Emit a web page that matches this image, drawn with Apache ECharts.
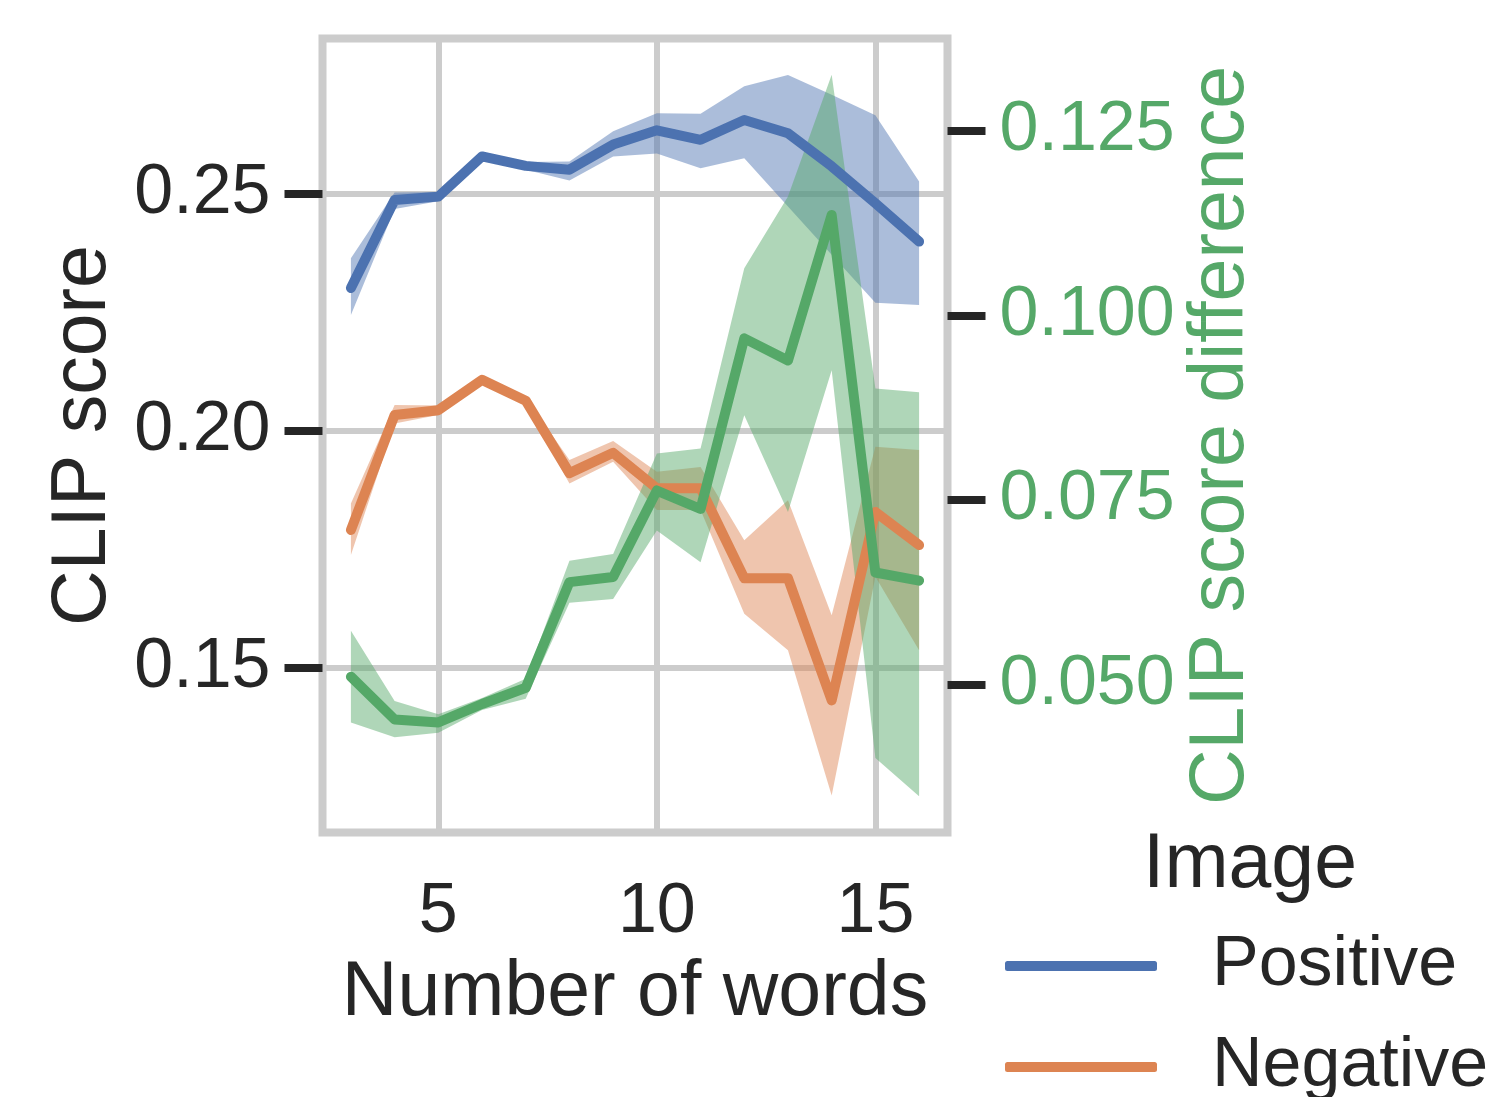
<!DOCTYPE html>
<html>
<head>
<meta charset="utf-8">
<script src="https://cdn.jsdelivr.net/npm/echarts@6/dist/echarts.min.js"></script>
<style>
html,body{margin:0;padding:0;background:#fff;}
#chart{width:1493px;height:1097px;}
</style>
</head>
<body>
<div id="chart"></div>
<script>
// ---- data ----
var words = [3, 4, 5, 6, 7, 8, 9, 10, 11, 12, 13, 14, 15, 16];

var posMean = [0.2301, 0.2487, 0.2494, 0.2579, 0.2559, 0.2551, 0.2604, 0.2634, 0.2614, 0.2656, 0.2628, 0.2558, 0.2480, 0.2399];
var posLow  = [0.2244, 0.2468, 0.2484, 0.2571, 0.2551, 0.2528, 0.2579, 0.2585, 0.2554, 0.2575, 0.2473, 0.2371, 0.2270, 0.2265];
var posHigh = [0.2364, 0.2503, 0.2504, 0.2587, 0.2567, 0.2568, 0.2632, 0.2670, 0.2669, 0.2727, 0.2751, 0.2709, 0.2666, 0.2526];

var negMean = [0.1790, 0.2033, 0.2043, 0.2107, 0.2063, 0.1910, 0.1953, 0.1878, 0.1878, 0.1688, 0.1688, 0.1430, 0.1828, 0.1758];
var negLow  = [0.1737, 0.2015, 0.2033, 0.2099, 0.2055, 0.1888, 0.1934, 0.1832, 0.1832, 0.1613, 0.1536, 0.1229, 0.1691, 0.1536];
var negHigh = [0.1846, 0.2054, 0.2053, 0.2115, 0.2071, 0.1938, 0.1978, 0.1913, 0.1923, 0.1768, 0.1853, 0.1610, 0.1966, 0.1959];

var diffMean = [0.0511, 0.0453, 0.0449, 0.0474, 0.0496, 0.0639, 0.0646, 0.0763, 0.0738, 0.0969, 0.0939, 0.1136, 0.0652, 0.0641];
var diffLow  = [0.0449, 0.0429, 0.0435, 0.0466, 0.0481, 0.0611, 0.0616, 0.0709, 0.0666, 0.0865, 0.0734, 0.0926, 0.0401, 0.0349];
var diffHigh = [0.0573, 0.0478, 0.0460, 0.0482, 0.0508, 0.0668, 0.0677, 0.0813, 0.0820, 0.1064, 0.1161, 0.1326, 0.0901, 0.0896];

var xTicks = [5, 10, 15];
var leftTicks = [0.15, 0.20, 0.25];
var rightTicks = [0.050, 0.075, 0.100, 0.125];

// ---- styling ----
var FONT = 'Liberation Sans, Arial, sans-serif';
var TXT = '#262626';
var BLUE = '#4C72B0', ORANGE = '#DD8452', GREEN = '#55A868';
var GRIDC = '#cccccc';

function rgba(hex, a) {
  var n = parseInt(hex.slice(1), 16);
  return 'rgba(' + ((n >> 16) & 255) + ',' + ((n >> 8) & 255) + ',' + (n & 255) + ',' + a + ')';
}

function bandSeries(name, lo, hi, color, yIdx) {
  return {
    type: 'custom', name: name, yAxisIndex: yIdx, silent: true,
    data: words.map(function (x, i) { return [x, lo[i], hi[i]]; }),
    encode: { x: 0, y: [1, 2] },
    renderItem: function (params, api) {
      if (params.dataIndex !== 0) return null;
      var pts = [];
      for (var i = 0; i < words.length; i++) pts.push(api.coord([words[i], hi[i]]));
      for (var j = words.length - 1; j >= 0; j--) pts.push(api.coord([words[j], lo[j]]));
      return { type: 'polygon', shape: { points: pts }, style: { fill: rgba(color, 0.47) } };
    }
  };
}

function lineSeries(name, vals, color, yIdx) {
  return {
    type: 'line', name: name, yAxisIndex: yIdx,
    data: words.map(function (x, i) { return [x, vals[i]]; }),
    showSymbol: false, symbol: 'none',
    color: color,
    lineStyle: { color: color, width: 10, cap: 'round', join: 'round' }
  };
}

function legendFor(name, top) {
  return {
    data: [name],
    orient: 'vertical', left: 1005, top: top, padding: 0,
    icon: 'roundRect', itemWidth: 152, itemHeight: 10,
    textStyle: { fontSize: 70, color: TXT, fontFamily: FONT, lineHeight: 80, padding: [0, 0, 0, 50] }
  };
}

var chart = echarts.init(document.getElementById('chart'), null, { renderer: 'canvas' });

chart.setOption({
  animation: false,
  backgroundColor: '#ffffff',
  textStyle: { fontFamily: FONT },
  grid: {
    left: 322.5, top: 38.5, width: 625, height: 794,
    show: true, borderColor: GRIDC, borderWidth: 8, backgroundColor: 'transparent'
  },
  xAxis: {
    type: 'value', min: 2.35, max: 16.65,
    axisLine: { show: false },
    axisTick: { show: false, customValues: xTicks },
    axisLabel: { customValues: xTicks, margin: 45, fontSize: 70, color: TXT, fontFamily: FONT },
    splitLine: { show: true, lineStyle: { color: GRIDC, width: 6 } },
    name: 'Number of words', nameLocation: 'middle', nameGap: 123, nameMoveOverlap: false,
    nameTextStyle: { fontSize: 77, color: TXT, fontFamily: FONT }
  },
  yAxis: [{
    type: 'value', min: 0.1151, max: 0.2828, position: 'left',
    axisLine: { show: false },
    axisTick: { show: true, customValues: leftTicks, length: 38, lineStyle: { color: TXT, width: 8 } },
    axisLabel: { customValues: leftTicks, margin: 52, fontSize: 70, color: TXT, fontFamily: FONT,
                 formatter: function (v) { return v.toFixed(2); } },
    splitLine: { show: true, lineStyle: { color: GRIDC, width: 6 } },
    name: 'CLIP score', nameLocation: 'middle', nameGap: 200, nameRotate: 90, nameMoveOverlap: false,
    nameTextStyle: { fontSize: 77, color: TXT, fontFamily: FONT }
  }, {
    type: 'value', min: 0.0300, max: 0.1375, position: 'right',
    axisLine: { show: false },
    axisTick: { show: true, customValues: rightTicks, length: 38, lineStyle: { color: TXT, width: 8 } },
    axisLabel: { customValues: rightTicks, margin: 52, fontSize: 70, color: GREEN, fontFamily: FONT,
                 formatter: function (v) { return v.toFixed(3); } },
    splitLine: { show: false },
    name: 'CLIP score difference', nameLocation: 'middle', nameGap: 236, nameRotate: 90, nameMoveOverlap: false,
    nameTextStyle: { fontSize: 77, color: GREEN, fontFamily: FONT }
  }],
  legend: [legendFor('Positive', 926), legendFor('Negative', 1027)],
  graphic: [{
    type: 'text', left: 1143, top: 827,
    style: { text: 'Image', fontSize: 77, fill: TXT, fontFamily: FONT }
  }],
  series: [
    bandSeries('Positive band', posLow, posHigh, BLUE, 0),
    lineSeries('Positive', posMean, BLUE, 0),
    bandSeries('Negative band', negLow, negHigh, ORANGE, 0),
    lineSeries('Negative', negMean, ORANGE, 0),
    bandSeries('Difference band', diffLow, diffHigh, GREEN, 1),
    lineSeries('Difference', diffMean, GREEN, 1)
  ]
});
</script>
</body>
</html>
